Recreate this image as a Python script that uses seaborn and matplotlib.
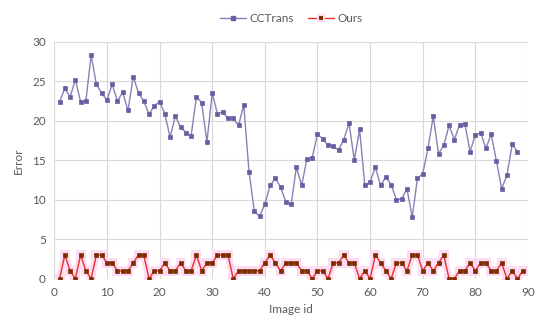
import numpy as np
import pandas as pd
import matplotlib
matplotlib.use("Agg")
import matplotlib.pyplot as plt
from matplotlib.lines import Line2D
import seaborn as sns

# CCTrans errors, image id 1..88
cctrans = [22.4, 24.1, 23.0, 25.2, 22.4, 22.5, 28.3, 24.6, 23.5, 22.6,
           24.6, 22.5, 23.6, 21.3, 25.6, 23.5, 22.5, 20.8, 21.9, 22.4,
           20.9, 17.9, 20.6, 19.2, 18.5, 18.1, 23.0, 22.3, 17.3, 23.5,
           20.9, 21.1, 20.3, 20.3, 19.4, 22.0, 13.5, 8.6, 7.9, 9.4,
           11.8, 12.7, 11.6, 9.7, 9.4, 14.1, 11.8, 15.2, 15.3, 18.3,
           17.7, 16.9, 16.8, 16.3, 17.6, 19.7, 15.0, 18.9, 11.8, 12.3,
           14.1, 11.8, 12.9, 11.9, 10.0, 10.1, 11.4, 7.8, 12.7, 13.3,
           16.5, 20.6, 15.8, 16.9, 19.4, 17.6, 19.5, 19.6, 16.1, 18.2,
           18.5, 16.5, 18.3, 14.9, 11.4, 13.1, 17.0, 16.1]

# Ours errors, image id 1..89
ours = [0, 3, 1, 0, 3, 1, 0, 3, 3, 2,
        2, 1, 1, 1, 2, 3, 3, 0, 1, 1,
        2, 1, 1, 2, 1, 1, 3, 1, 2, 2,
        3, 3, 3, 0, 1, 1, 1, 1, 1, 2,
        3, 2, 1, 2, 2, 2, 1, 1, 0, 1,
        1, 0, 2, 2, 3, 2, 2, 0, 1, 0,
        3, 2, 1, 0, 2, 2, 1, 3, 3, 1,
        2, 1, 2, 3, 0, 0, 1, 1, 2, 1,
        2, 2, 1, 1, 2, 0, 1, 0, 1]

cc_ids = list(range(1, len(cctrans) + 1))
ours_ids = list(range(1, len(ours) + 1))

df_cc = pd.DataFrame({"id": cc_ids, "err": cctrans})
df_ours = pd.DataFrame({"id": ours_ids, "err": ours})

cc_line, cc_mark = "#8b7fb8", "#6c5ba3"
our_line, our_mark, our_glow = "#e8302a", "#7a2e00", "#ffdcf3"

sns.set_style("white")
plt.rcParams['font.family'] = ['Lato', 'DejaVu Sans']

fig = plt.figure(figsize=(5.5, 3.34), dpi=100)
ax = fig.add_axes([0.0987, 0.1656, 0.8613, 0.7094])

sns.lineplot(data=df_cc, x="id", y="err", ax=ax, color=cc_line, lw=1,
             marker="s", markersize=3.4, markerfacecolor=cc_mark,
             markeredgecolor=cc_mark, markeredgewidth=0.5, legend=False)
# soft pink glow behind "Ours"
sns.lineplot(data=df_ours, x="id", y="err", ax=ax, color=our_glow, lw=5,
             marker="s", markersize=7.5, markerfacecolor=our_glow,
             markeredgecolor=our_glow, markeredgewidth=0, legend=False)
sns.lineplot(data=df_ours, x="id", y="err", ax=ax, color=our_line, lw=1,
             marker="s", markersize=3.4, markerfacecolor=our_mark,
             markeredgecolor=our_mark, markeredgewidth=0.5, legend=False)

ax.set_xlim(0, 90)
ax.set_ylim(0, 30)
ax.set_xticks(range(0, 91, 10))
ax.set_yticks(range(0, 31, 5))
ax.grid(True, color="#d9d9d9", lw=0.8)
for s in ax.spines.values():
    s.set_visible(False)
ax.tick_params(length=0, labelsize=8.5, colors="#595959", pad=6)
ax.set_xlabel("Image id", fontsize=8.5, color="#595959", labelpad=4)
ax.set_ylabel("Error", fontsize=8.5, color="#595959", labelpad=6)

handles = [
    Line2D([], [], color=cc_line, lw=1, marker="s", markersize=3.4,
           markerfacecolor=cc_mark, markeredgecolor=cc_mark),
    Line2D([], [], color=our_line, lw=1, marker="s", markersize=4,
           markerfacecolor=our_mark, markeredgecolor=our_glow,
           markeredgewidth=1.5),
]
ax.legend(handles, ["CCTrans", "Ours"], loc="lower center",
          bbox_to_anchor=(0.5, 1.03), ncol=2, frameon=False, fontsize=8.5,
          handlelength=2.2, columnspacing=1.2, handletextpad=0.3,
          labelcolor="#595959")

fig.savefig("out.png", dpi=100)
